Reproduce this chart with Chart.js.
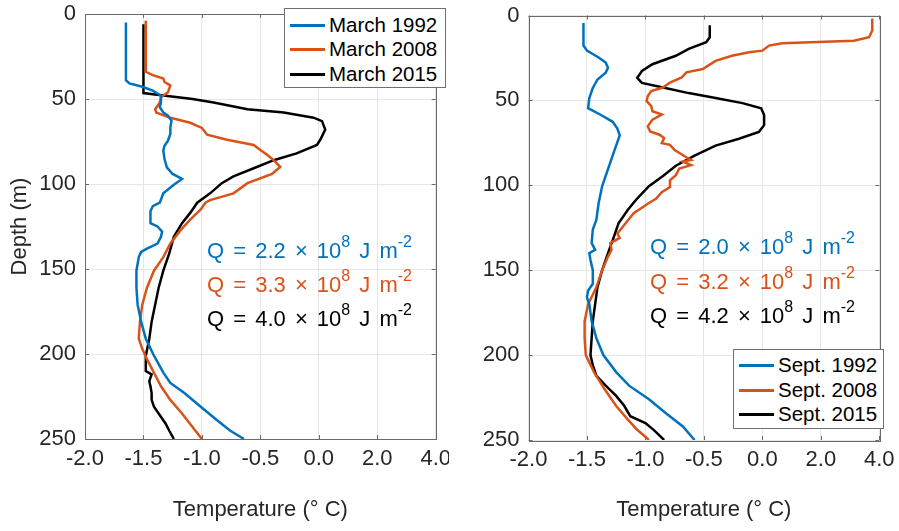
<!DOCTYPE html>
<html>
<head>
<meta charset="utf-8">
<title>Temperature profiles</title>
<script src="https://cdn.jsdelivr.net/npm/chart.js@4.4.1/dist/chart.umd.min.js"></script>
<style>
  html, body { margin: 0; padding: 0; background: #fff; }
  body { width: 899px; height: 531px; position: relative; overflow: hidden;
         font-family: "Liberation Sans", Arial, Helvetica, sans-serif; }
  canvas { position: absolute; top: 0; }
  #chartLeft { left: 0; }
  #chartRight { left: 449px; }
  .legend { position: absolute; box-sizing: border-box; border: 1px solid #707070;
            background: #fff; font-size: 20.5px; color: #000; }
  .legend .row { position: absolute; left: 0; right: 0; height: 24px; line-height: 24px; white-space: nowrap; }
  .legend .swatch { position: absolute; left: 5px; width: 35px; top: 11px; height: 3px; }
  .legend .label { position: absolute; left: 44px; top: 0; }
  .qnote { position: absolute; font-size: 22px; line-height: 26px; white-space: nowrap; word-spacing: 3px; }
  .qnote sup { font-size: 16px; position: relative; top: -11px; vertical-align: baseline; line-height: 0; }
</style>
</head>
<body>
<canvas id="chartLeft" width="449" height="531"></canvas>
<canvas id="chartRight" width="450" height="531"></canvas>
<script>
// axis: equal spacing between these ticks (piecewise scale, like the original)
const xTickValues = [-2.0, -1.5, -1.0, -0.5, 0.0, 2.0, 4.0];
const xTickLabels = ['-2.0', '-1.5', '-1.0', '-0.5', '0.0', '2.0', '4.0'];
const seriesColors = ['#0072BD', '#D95319', '#000000'];

const marchLabels = ['March 1992', 'March 2008', 'March 2015'];
const septLabels = ['Sept. 1992', 'Sept. 2008', 'Sept. 2015'];
const marchQ = ['2.2', '3.3', '4.0'];
const septQ = ['2.0', '3.2', '4.2'];

// March profiles (depth m, temperature °C)
const mar1992Depth = [5, 39, 40.8, 42.8, 45.1, 48, 52, 54.9, 57.9, 59.8, 62.8, 66.7, 70.6, 74.5, 77.5, 80.4, 85.3, 90.2, 94.1, 97, 100.5, 105.5, 111, 113, 116, 123, 125, 128, 131, 135, 138, 140, 143, 151, 161, 171, 181, 191, 201, 211, 217, 223, 231, 239, 245, 250];
const mar1992Temp = [-1.65, -1.65, -1.62, -1.51, -1.42, -1.35, -1.35, -1.36, -1.33, -1.29, -1.26, -1.27, -1.27, -1.29, -1.32, -1.33, -1.32, -1.30, -1.25, -1.17, -1.24, -1.33, -1.36, -1.42, -1.44, -1.44, -1.38, -1.34, -1.35, -1.38, -1.47, -1.52, -1.54, -1.56, -1.56, -1.55, -1.52, -1.48, -1.41, -1.33, -1.27, -1.15, -1.01, -0.87, -0.76, -0.64];

const mar2008Depth = [4, 31, 34, 36, 38, 40, 42, 46, 49, 52, 56, 58, 61, 64, 67, 71, 74, 77, 80, 83, 86, 90, 94, 99.5, 105.5, 109.5, 111, 115, 121, 127, 135, 143, 151, 161, 171, 181, 191, 197, 203, 211, 219, 227, 235, 243, 250];
const mar2008Temp = [-1.48, -1.48, -1.48, -1.42, -1.33, -1.32, -1.27, -1.29, -1.35, -1.36, -1.40, -1.39, -1.27, -1.10, -1.00, -0.955, -0.785, -0.557, -0.50, -0.44, -0.386, -0.33, -0.40, -0.61, -0.73, -0.93, -0.97, -1.01, -1.10, -1.18, -1.27, -1.33, -1.41, -1.47, -1.51, -1.53, -1.54, -1.51, -1.47, -1.41, -1.35, -1.27, -1.17, -1.08, -1.00];

const mar2015Depth = [6, 46.5, 48, 50, 52, 56, 58, 61, 63, 68, 74, 77, 82, 86, 90, 95.5, 99.5, 105.5, 111, 117, 123, 131, 141, 151, 161, 171, 181, 191, 201, 210, 212, 216, 219, 223, 227, 231, 235, 241, 245, 250];
const mar2015Temp = [-1.50, -1.50, -1.33, -1.08, -0.90, -0.61, -0.30, -0.045, 0.11, 0.22, 0.05, -0.016, -0.19, -0.386, -0.53, -0.73, -0.83, -0.93, -1.04, -1.10, -1.17, -1.24, -1.28, -1.33, -1.37, -1.40, -1.43, -1.45, -1.48, -1.48, -1.43, -1.45, -1.44, -1.43, -1.43, -1.41, -1.37, -1.31, -1.28, -1.24];

// September profiles
const sep1992Depth = [4.4, 17.7, 20.7, 24.7, 27.7, 30.7, 33.7, 37.7, 42.7, 48.6, 54.6, 58.6, 62.6, 66.6, 70.6, 80.5, 90.5, 100.5, 110.4, 120.4, 126, 134, 138, 140, 144, 150, 158, 162, 166, 170, 180, 190, 200, 210, 218, 226, 234, 242, 250];
const sep1992Temp = [-1.53, -1.53, -1.50, -1.40, -1.34, -1.32, -1.34, -1.41, -1.45, -1.48, -1.49, -1.38, -1.28, -1.24, -1.22, -1.27, -1.32, -1.37, -1.40, -1.42, -1.45, -1.46, -1.43, -1.48, -1.47, -1.45, -1.45, -1.49, -1.50, -1.48, -1.46, -1.42, -1.36, -1.25, -1.14, -0.97, -0.83, -0.68, -0.58];

const sep2008Depth = [1.8, 8.8, 12.8, 14.8, 16.3, 17.7, 20.7, 21.7, 23.7, 26.7, 31.5, 33.5, 36.5, 39.5, 42.4, 44.5, 47.4, 50.4, 53.4, 56.4, 58.3, 61.3, 65.3, 68.3, 70.2, 72.2, 75.2, 76.2, 79.2, 83.5, 85.1, 86.1, 88.1, 90.1, 94, 97, 101, 104, 108, 110.4, 116.4, 122.4, 128.4, 131, 134, 138, 142, 150, 160, 170, 180, 190, 200, 210, 220, 230, 238, 244, 250];
const sep2008Temp = [3.76, 3.76, 3.65, 3.13, 0.68, 0.23, 0.0, -0.114, -0.26, -0.40, -0.51, -0.65, -0.69, -0.79, -0.85, -0.95, -0.98, -0.99, -0.95, -0.94, -0.86, -0.94, -0.98, -0.96, -0.88, -0.84, -0.86, -0.79, -0.75, -0.65, -0.61, -0.68, -0.61, -0.71, -0.74, -0.79, -0.79, -0.86, -0.91, -0.97, -1.10, -1.17, -1.24, -1.22, -1.30, -1.29, -1.32, -1.37, -1.42, -1.49, -1.52, -1.52, -1.51, -1.44, -1.35, -1.25, -1.15, -1.07, -0.97];

const sep2015Depth = [5.8, 12.8, 15.7, 19.7, 23.7, 28.7, 32.7, 36.7, 39.7, 42.7, 45.7, 48.6, 51.6, 54.6, 58.6, 64.6, 68.6, 72.6, 76.6, 82.5, 88.5, 94.5, 100.5, 108.5, 114.4, 122.4, 130.4, 140, 150, 160, 170, 180, 190, 200, 206, 212, 218, 224, 230, 236, 240, 244, 250];
const sep2015Temp = [-0.45, -0.45, -0.48, -0.63, -0.74, -0.94, -1.03, -1.07, -1.03, -0.83, -0.63, -0.40, -0.17, -0.01, 0.06, 0.06, -0.03, -0.20, -0.40, -0.58, -0.74, -0.85, -0.97, -1.08, -1.15, -1.23, -1.27, -1.32, -1.37, -1.41, -1.43, -1.45, -1.46, -1.47, -1.45, -1.42, -1.34, -1.25, -1.18, -1.13, -1.00, -0.93, -0.84];

// temperature -> position on the piecewise axis (tick index)
function toAxis(t) {
    for (let i = 1; i < xTickValues.length; i++) {
        if (t <= xTickValues[i] || i === xTickValues.length - 1) {
            const a = xTickValues[i - 1], b = xTickValues[i];
            return (i - 1) + (t - a) / (b - a);
        }
    }
}

// box + inner tick marks, like matlab "box on"
const framePlugin = {
    id: 'frame',
    afterDatasetsDraw(chart) {
        const { ctx, chartArea: a, scales: { x, y } } = chart;
        ctx.save();
        ctx.strokeStyle = '#6a6a6a';
        ctx.lineWidth = 1;
        ctx.beginPath();
        x.ticks.forEach(t => {
            const px = Math.round(x.getPixelForValue(t.value)) + 0.5;
            ctx.moveTo(px, a.bottom); ctx.lineTo(px, a.bottom - 4);
            ctx.moveTo(px, a.top); ctx.lineTo(px, a.top + 4);
        });
        y.ticks.forEach(t => {
            const py = Math.round(y.getPixelForValue(t.value)) + 0.5;
            ctx.moveTo(a.left, py); ctx.lineTo(a.left + 4, py);
            ctx.moveTo(a.right, py); ctx.lineTo(a.right - 4, py);
        });
        ctx.stroke();
        ctx.strokeRect(Math.round(a.left) + 0.5, Math.round(a.top) + 0.5,
            Math.round(a.right - a.left), Math.round(a.bottom - a.top));
        ctx.restore();
    }
};

function makeSeries(labels, depths, temps) {
    return labels.map((lab, i) => ({
        label: lab,
        data: depths[i].map((d, k) => ({ x: toAxis(temps[i][k]), y: d })),
        borderColor: seriesColors[i],
        backgroundColor: seriesColors[i],
        borderWidth: 2.5,
        pointRadius: 0,
        tension: 0,
        fill: false
    }));
}

function drawPanel(canvasId, datasets, box, yTitle) {
    const tickFont = { family: '"Liberation Sans", Arial, sans-serif', size: 22 };
    return new Chart(document.getElementById(canvasId), {
        type: 'line',
        data: { datasets },
        options: {
            responsive: false,
            animation: false,
            layout: { padding: { top: box.top, right: box.right, left: 0, bottom: 0 } },
            plugins: { legend: { display: false }, tooltip: { enabled: false } },
            scales: {
                x: {
                    type: 'linear',
                    min: 0,
                    max: xTickValues.length - 1,
                    ticks: {
                        stepSize: 1,
                        autoSkip: false,
                        maxRotation: 0,
                        padding: 7,
                        color: '#262626',
                        font: tickFont,
                        callback: (v, i) => xTickLabels[i]
                    },
                    grid: { color: '#e6e6e6', drawTicks: false },
                    border: { display: false },
                    title: {
                        display: true,
                        text: 'Temperature (° C)',
                        color: '#262626',
                        font: tickFont,
                        padding: { top: 0, bottom: 8 }
                    },
                    afterFit: s => {
                        s.height = box.xHeight;
                        s.paddingLeft = 0; s.paddingRight = 0;
                    }
                },
                y: {
                    type: 'linear',
                    reverse: true,
                    min: 0,
                    max: 250,
                    ticks: { stepSize: 50, padding: 9, color: '#262626', font: tickFont },
                    grid: { color: '#e6e6e6', drawTicks: false },
                    border: { display: false },
                    title: {
                        display: !!yTitle,
                        text: yTitle || '',
                        color: '#262626',
                        font: tickFont,
                        padding: { top: 7, bottom: 0 }
                    },
                    afterFit: s => {
                        s.width = box.yWidth;
                        s.paddingTop = 0; s.paddingBottom = 0;
                    }
                }
            }
        },
        plugins: [framePlugin]
    });
}

function addLegend(labels, pos) {
    const el = document.createElement('div');
    el.className = 'legend';
    Object.assign(el.style, { left: pos.left + 'px', top: pos.top + 'px', width: pos.width + 'px', height: pos.height + 'px' });
    labels.forEach((lab, i) => {
        const row = document.createElement('div');
        row.className = 'row';
        row.style.top = (pos.rows[i] - 12) + 'px';
        const sw = document.createElement('span');
        sw.className = 'swatch';
        sw.style.background = seriesColors[i];
        const tx = document.createElement('span');
        tx.className = 'label';
        tx.textContent = lab;
        row.append(sw, tx);
        el.appendChild(row);
    });
    document.body.appendChild(el);
}

function addQNotes(values, left, baselines) {
    values.forEach((v, i) => {
        const el = document.createElement('div');
        el.className = 'qnote';
        el.style.left = left + 'px';
        el.style.top = (baselines[i] - 20.6) + 'px';
        el.style.color = seriesColors[i];
        el.innerHTML = `Q = ${v} × 10<sup>8</sup> J m<sup>-2</sup>`;
        document.body.appendChild(el);
    });
}

drawPanel('chartLeft',
    makeSeries(marchLabels, [mar1992Depth, mar2008Depth, mar2015Depth], [mar1992Temp, mar2008Temp, mar2015Temp]),
    { top: 14, right: 13.3, xHeight: 92, yWidth: 85 }, 'Depth (m)');

drawPanel('chartRight',
    makeSeries(septLabels, [sep1992Depth, sep2008Depth, sep2015Depth], [sep1992Temp, sep2008Temp, sep2015Temp]),
    { top: 15.5, right: 19.7, xHeight: 91, yWidth: 79.5 }, null);

addLegend(marchLabels, { left: 284, top: 8, width: 161.5, height: 80, rows: [15.5, 40, 64.5] });
addLegend(septLabels, { left: 733, top: 349, width: 151, height: 80, rows: [15, 39.5, 64] });

addQNotes(marchQ, 207, [259, 293, 327]);
addQNotes(septQ, 650, [255, 290, 324]);
</script>
</body>
</html>
